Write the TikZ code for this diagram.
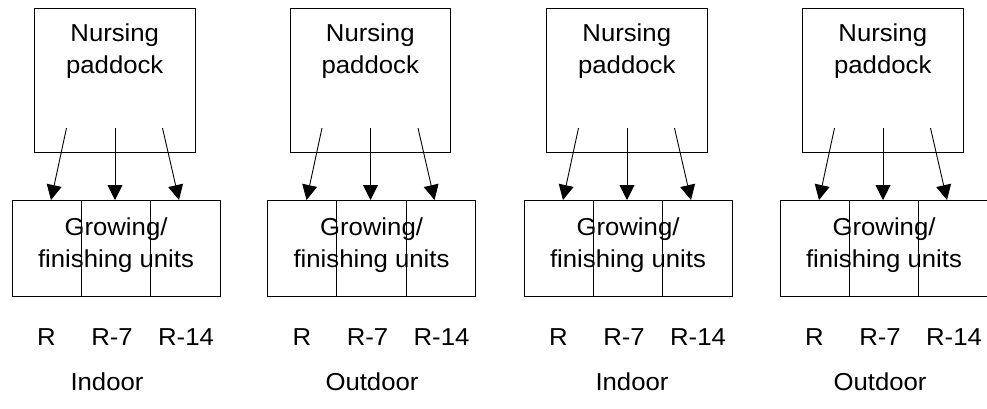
\documentclass[tikz,border=0pt]{standalone}
\usepackage{fontspec}
\usepackage{graphicx}
\setmainfont{Liberation Sans}
\usetikzlibrary{arrows.meta}
\newcommand{\wt}[1]{\scalebox{1.05}[1]{#1}}
\begin{document}
\begin{tikzpicture}[x=1pt,y=-1pt,
  line width=0.9pt,
  boxstyle/.style={draw, line width=0.9pt, inner sep=0pt, outer sep=0pt, anchor=north west},
  txt/.style={inner sep=0pt, anchor=base, font=\fontsize{24.5}{24.5}\selectfont},
  arr/.style={-{Triangle[length=15pt,width=15pt]}, line width=0.9pt}]
\clip (0,0) rectangle (987,408);
\useasboundingbox (0,0) rectangle (987,408);
\foreach \i/\L/\lab/\lx in {1/12/Indoor/107, 2/267.5/Outdoor/372, 3/524/Indoor/632, 4/780/Outdoor/880}{
  % nursing paddock box
  \node[boxstyle, minimum width=160.5pt, minimum height=144pt] (top\i) at (\L+22.5,8) {};
  \node[txt] (n\i) at (\L+102.75,41.5) {\wt{Nursing}};
  \node[txt] (p\i) at (\L+102.75,73) {\wt{paddock}};
  % growing/finishing units
  \node[boxstyle, minimum width=208pt, minimum height=96pt] (bot\i) at (\L,200) {};
  \draw (\L+69.3,200) -- (\L+69.3,296);
  \draw (\L+138.7,200) -- (\L+138.7,296);
  \node[txt] (g\i) at (\L+104,235) {\wt{Growing/}};
  \node[txt] (f\i) at (\L+104,267) {\wt{finishing units}};
  % arrows
  \coordinate (sa\i) at (\L+54.5,128);
  \coordinate (sb\i) at (\L+103,128);
  \coordinate (sc\i) at (\L+150.5,128);
  \coordinate (ea\i) at (\L+39,200);
  \coordinate (eb\i) at (\L+103,200);
  \coordinate (ec\i) at (\L+167,200);
  \draw[arr] (sa\i) -- (ea\i);
  \draw[arr] (sb\i) -- (eb\i);
  \draw[arr] (sc\i) -- (ec\i);
  % labels
  \node[txt] (r\i) at (\L+34.5,345) {\wt{R}};
  \node[txt] (rs\i) at (\L+100,345) {\wt{R-7}};
  \node[txt] (rf\i) at (\L+174,345) {\wt{R-14}};
  \node[txt] (l\i) at (\lx,390) {\wt{\lab}};
}
\end{tikzpicture}
\end{document}
